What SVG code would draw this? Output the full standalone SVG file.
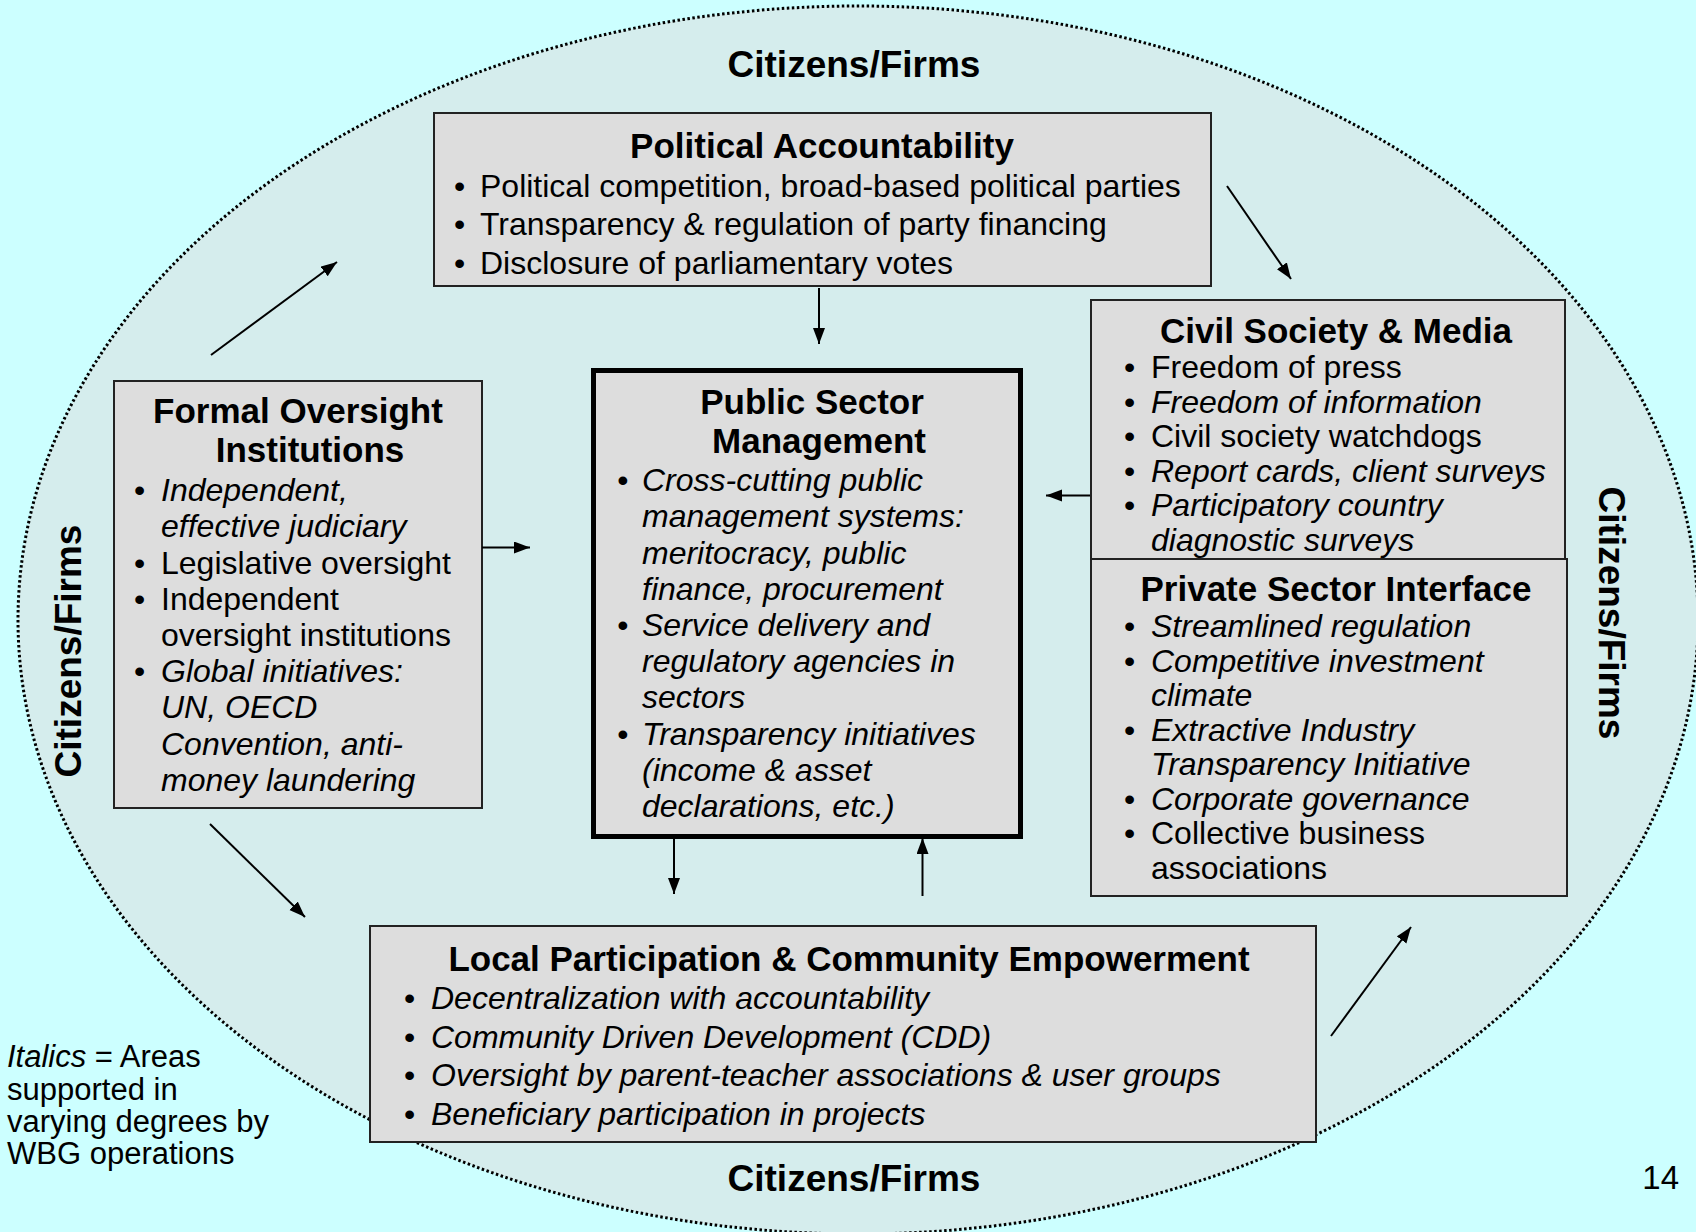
<svg xmlns="http://www.w3.org/2000/svg" width="1696" height="1232" viewBox="0 0 1696 1232">
<style>
text{font-family:"Liberation Sans",Arial,sans-serif;fill:#000}
.t{font-size:35px;font-weight:bold;text-anchor:middle}
.b{font-size:32px}
.i{font-style:italic}
.cf{font-size:37px;font-weight:bold;text-anchor:middle}
.box{fill:#DDDDDD;stroke:#222;stroke-width:2}
.psm{fill:#DDDDDD;stroke:#000;stroke-width:5}
.con line{stroke:#000;stroke-width:2;marker-end:url(#ah)}
</style>
<defs>
<marker id="ah" markerUnits="userSpaceOnUse" markerWidth="18" markerHeight="14" refX="16" refY="6" orient="auto">
<path d="M0,0 L16,6 L0,12 z" fill="#000"/>
</marker>
</defs>
<rect width="1696" height="1232" fill="#CCFFFF"/>
<ellipse id="citizens-ellipse" cx="858" cy="620" rx="840" ry="614" fill="#D5EDED" stroke="#000" stroke-width="3" stroke-dasharray="2.5 2.5"/>
<g id="citizens-labels">
<text class="cf" x="854" y="77">Citizens/Firms</text>
<text class="cf" x="854" y="1191">Citizens/Firms</text>
<text class="cf" transform="translate(81,651) rotate(-90)">Citizens/Firms</text>
<text class="cf" transform="translate(1599,613) rotate(90)">Citizens/Firms</text>
</g>
<g id="political-accountability">
<rect class="box" x="434" y="113" width="777" height="173"/>
<text class="t" x="822" y="158">Political Accountability</text>
<g class="b">
<text x="454" y="196.5">•</text><text x="480" y="196.5">Political competition, broad-based political parties</text>
<text x="454" y="235">•</text><text x="480" y="235">Transparency &amp; regulation of party financing</text>
<text x="454" y="273.5">•</text><text x="480" y="273.5">Disclosure of parliamentary votes</text>
</g>
</g>
<g id="civil-society">
<rect class="box" x="1091" y="300" width="474" height="259"/>
<text class="t" x="1336" y="343">Civil Society &amp; Media</text>
<g class="b">
<text x="1124" y="378">•</text><text x="1151" y="378">Freedom of press</text>
<text x="1124" y="412.5">•</text><text class="i" x="1151" y="412.5">Freedom of information</text>
<text x="1124" y="447">•</text><text x="1151" y="447">Civil society watchdogs</text>
<text x="1124" y="481.5">•</text><text class="i" x="1151" y="481.5">Report cards, client surveys</text>
<text x="1124" y="516">•</text><text class="i" x="1151" y="516">Participatory country</text>
<text class="i" x="1151" y="550.5">diagnostic surveys</text>
</g>
</g>
<g id="private-sector">
<rect class="box" x="1091" y="559" width="476" height="337"/>
<text class="t" x="1336" y="601">Private Sector Interface</text>
<g class="b">
<text x="1124" y="637">•</text><text class="i" x="1151" y="637">Streamlined regulation</text>
<text x="1124" y="671.5">•</text><text class="i" x="1151" y="671.5">Competitive investment</text>
<text class="i" x="1151" y="706">climate</text>
<text x="1124" y="740.5">•</text><text class="i" x="1151" y="740.5">Extractive Industry</text>
<text class="i" x="1151" y="775">Transparency Initiative</text>
<text x="1124" y="809.5">•</text><text class="i" x="1151" y="809.5">Corporate governance</text>
<text x="1124" y="844">•</text><text x="1151" y="844">Collective business</text>
<text x="1151" y="878.5">associations</text>
</g>
</g>
<g id="public-sector-management">
<rect class="psm" x="593.5" y="370.5" width="427" height="466"/>
<text class="t" x="812" y="414">Public Sector</text>
<text class="t" x="819" y="453">Management</text>
<g class="b i">
<text x="617" y="491">•</text><text x="642" y="491">Cross-cutting public</text>
<text x="642" y="527">management systems:</text>
<text x="642" y="563.5">meritocracy, public</text>
<text x="642" y="599.5">finance, procurement</text>
<text x="617" y="636">•</text><text x="642" y="636">Service delivery and</text>
<text x="642" y="672">regulatory agencies in</text>
<text x="642" y="708">sectors</text>
<text x="617" y="744.5">•</text><text x="642" y="744.5">Transparency initiatives</text>
<text x="642" y="781">(income &amp; asset</text>
<text x="642" y="817">declarations, etc.)</text>
</g>
</g>
<g id="formal-oversight">
<rect class="box" x="114" y="381" width="368" height="427"/>
<text class="t" x="298" y="423">Formal Oversight</text>
<text class="t" x="310" y="462">Institutions</text>
<g class="b">
<text x="134" y="501">•</text><text class="i" x="161" y="501">Independent,</text>
<text class="i" x="161" y="537">effective judiciary</text>
<text x="134" y="573.5">•</text><text x="161" y="573.5">Legislative oversight</text>
<text x="134" y="609.5">•</text><text x="161" y="609.5">Independent</text>
<text x="161" y="646">oversight institutions</text>
<text x="134" y="682">•</text><text class="i" x="161" y="682">Global initiatives:</text>
<text class="i" x="161" y="718">UN, OECD</text>
<text class="i" x="161" y="754.5">Convention, anti-</text>
<text class="i" x="161" y="790.5">money laundering</text>
</g>
</g>
<g id="local-participation">
<rect class="box" x="370" y="926" width="946" height="216"/>
<text class="t" x="849" y="971">Local Participation &amp; Community Empowerment</text>
<g class="b">
<text x="404" y="1009">•</text><text class="i" x="431" y="1009">Decentralization with accountability</text>
<text x="404" y="1047.5">•</text><text class="i" x="431" y="1047.5">Community Driven Development (CDD)</text>
<text x="404" y="1086">•</text><text class="i" x="431" y="1086">Oversight by parent-teacher associations &amp; user groups</text>
<text x="404" y="1124.5">•</text><text class="i" x="431" y="1124.5">Beneficiary participation in projects</text>
</g>
</g>
<g id="connectors" class="con">
<line x1="211" y1="355" x2="337" y2="262"/>
<line x1="1227" y1="186" x2="1291" y2="279"/>
<line x1="819" y1="288" x2="819" y2="344"/>
<line x1="482" y1="547.5" x2="530" y2="547.5"/>
<line x1="1090" y1="495.5" x2="1046" y2="495.5"/>
<line x1="674" y1="839" x2="674" y2="894"/>
<line x1="922.5" y1="896" x2="922.5" y2="838"/>
<line x1="210" y1="824" x2="305" y2="917"/>
<line x1="1331" y1="1036" x2="1411" y2="927"/>
</g>
<g id="legend" style="font-size:31px">
<text x="7" y="1067"><tspan font-style="italic">Italics</tspan> = Areas</text>
<text x="7" y="1099.5">supported in</text>
<text x="7" y="1132">varying degrees by</text>
<text x="7" y="1164">WBG operations</text>
</g>
<text id="page-number" x="1679" y="1189" style="font-size:33px;text-anchor:end">14</text>
</svg>
